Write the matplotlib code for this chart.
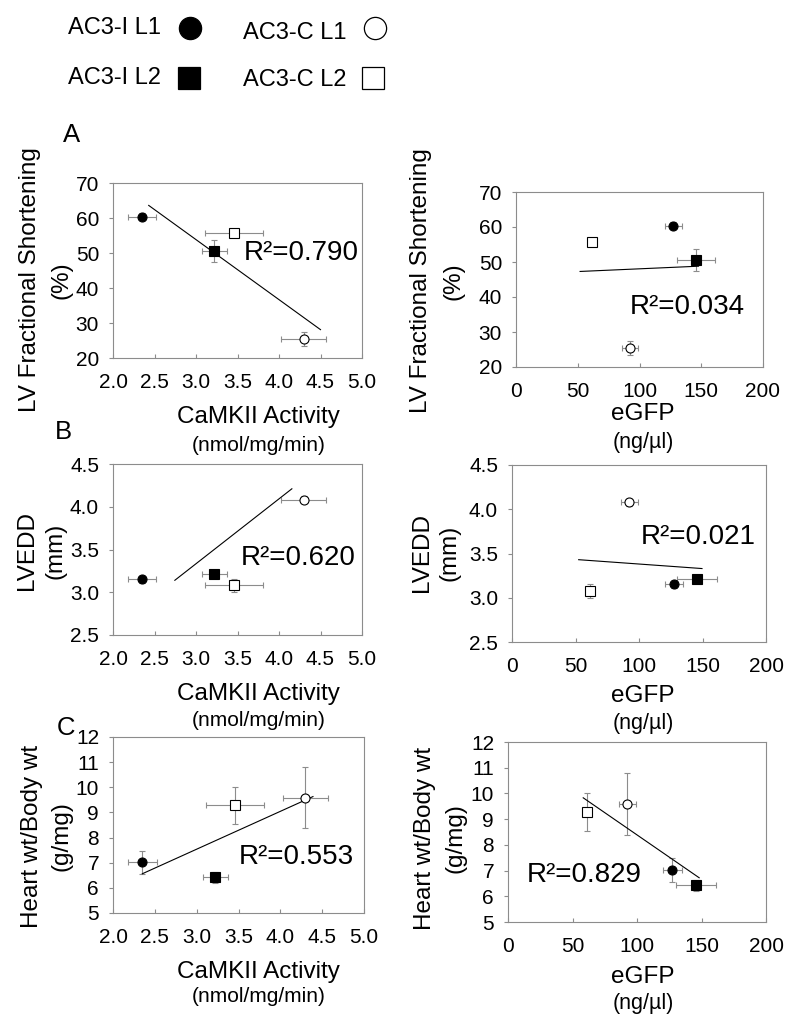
#imports:
import matplotlib
matplotlib.use('Agg')
import matplotlib.pyplot as plt
from matplotlib.lines import Line2D
from matplotlib import ticker

#define:
plt.rcParams['font.family'] = ['Liberation Sans', 'DejaVu Sans']

groups = ['AC3-I L1', 'AC3-I L2', 'AC3-C L1', 'AC3-C L2']
groupMarkers = ['o', 's', 'o', 's']
groupFaces = ['black', 'black', 'white', 'white']

#x values, one per group
camkii = [2.35, 3.22, 4.30, 3.46]
camkiiErr = [0.17, 0.15, 0.27, 0.35]
egfp = [127.5, 145.7, 92.5, 61.6]
egfpErr = [7.0, 15.5, 6.5, 2.0]

#y values, one per group
fracShort = [60.3, 50.5, 25.3, 55.7]
fracShortErr = [1.0, 3.1, 2.0, 1.2]
lvedd = [3.15, 3.21, 4.08, 3.08]
lveddErr = [0.04, 0.04, 0.04, 0.08]
heartBody = [7.02, 6.42, 9.59, 9.28]
heartBodyErr = [0.46, 0.23, 1.21, 0.74]

#trend lines as drawn (end points)
fitFsCamX, fitFsCamY = [2.43, 4.50], [63.6, 28.1]
fitFsGfpX, fitFsGfpY = [51.9, 147.8], [47.3, 48.8]
fitEddCamX, fitEddCamY = [2.745, 4.155], [3.14, 4.21]
fitEddGfpX, fitEddGfpY = [52.5, 149.6], [3.43, 3.33]
fitHwCamX, fitHwCamY = [2.35, 4.39], [6.56, 9.63]
fitHwGfpX, fitHwGfpY = [58.3, 148.2], [9.83, 6.72]

r2Labels = ['0.790', '0.034', '0.620', '0.021', '0.553', '0.829']

W, H = 795, 1023
gray = '#8c8c8c'
fig = plt.figure(figsize=(W/100, H/100), dpi=100)

def px(x, y):
    return x/W, 1 - y/H

def drawPanel(box, xs, xerr, ys, yerr, fitX, fitY, r2, r2Pos,
              xlim, xstep, xfmt, ylim, ystep, yfmt, ylabs, ylabY, xlabs):
    x0, y0, x1, y1 = box
    ax = fig.add_axes([x0/W, 1 - y1/H, (x1 - x0)/W, (y1 - y0)/H])
    ax.errorbar(xs, ys, xerr=xerr, yerr=yerr, fmt='none', ecolor=gray,
                elinewidth=0.8, capsize=2.5, capthick=0.8, zorder=2)
    ax.plot(fitX, fitY, color='black', lw=0.8, zorder=3)
    for x, y, m, f in zip(xs, ys, groupMarkers, groupFaces):
        ax.plot(x, y, marker=m, mfc=f, mec='black', ms=6.5, mew=0.8,
                ls='none', zorder=4)
    ax.text(r2Pos[0], r2Pos[1], 'R\u00b2=' + r2, fontsize=20,
            ha='left', va='center')
    ax.set_xlim(*xlim)
    ax.set_ylim(*ylim)
    ax.xaxis.set_major_locator(ticker.MultipleLocator(xstep))
    ax.yaxis.set_major_locator(ticker.MultipleLocator(ystep))
    ax.xaxis.set_major_formatter(ticker.FormatStrFormatter(xfmt))
    ax.yaxis.set_major_formatter(ticker.FormatStrFormatter(yfmt))
    ax.tick_params(axis='x', direction='in', length=3, width=0.8,
                   color=gray, pad=11, labelsize=15)
    ax.tick_params(axis='y', direction='out', length=3, width=0.8,
                   color=gray, pad=7, labelsize=15)
    for s in ax.spines.values():
        s.set_color(gray)
        s.set_linewidth(0.8)
    for txt, lx in ylabs:
        fig.text(*px(lx, ylabY), txt, rotation=90, fontsize=17.5,
                 ha='center', va='center')
    for txt, lx, ly, fs in xlabs:
        fig.text(*px(lx, ly), txt, fontsize=fs, ha='center', va='center')
    return ax

camLab = [('CaMKII Activity', 258, 0, 17.5), ('(nmol/mg/min)', 259, 0, 15)]
gfpLab = [('eGFP', 643, 0, 17.5), ('(ng/\u00b5l)', 643, 0, 15.5)]

def xl(lab, ya, yb):
    return [(lab[0][0], lab[0][1], ya, lab[0][3]),
            (lab[1][0], lab[1][1], yb, lab[1][3])]

#row A
drawPanel((113, 183, 362, 358), camkii, camkiiErr, fracShort, fracShortErr,
          fitFsCamX, fitFsCamY, r2Labels[0], (3.57, 49.9),
          (2.0, 5.0), 0.5, '%.1f', (20, 70), 10, '%d',
          [('LV Fractional Shortening', 30), ('(%)', 61)], 280,
          xl(camLab, 417, 445))
drawPanel((516, 192, 763, 367), egfp, egfpErr, fracShort, fracShortErr,
          fitFsGfpX, fitFsGfpY, r2Labels[1], (92.4, 37.2),
          (0, 200), 50, '%d', (20, 70), 10, '%d',
          [('LV Fractional Shortening', 421), ('(%)', 454)], 281,
          xl(gfpLab, 414, 442))
#row B
drawPanel((113, 464, 362, 635), camkii, camkiiErr, lvedd, lveddErr,
          fitEddCamX, fitEddCamY, r2Labels[2], (3.54, 3.40),
          (2.0, 5.0), 0.5, '%.1f', (2.5, 4.5), 0.5, '%.1f',
          [('LVEDD', 27), ('(mm)', 55)], 551,
          xl(camLab, 694, 720))
drawPanel((512, 465, 766, 642), egfp, egfpErr, lvedd, lveddErr,
          fitEddGfpX, fitEddGfpY, r2Labels[3], (101.6, 3.69),
          (0, 200), 50, '%d', (2.5, 4.5), 0.5, '%.1f',
          [('LVEDD', 422), ('(mm)', 449)], 553,
          xl(gfpLab, 696, 724))
#row C
drawPanel((113, 737, 364, 913), camkii, camkiiErr, heartBody, heartBodyErr,
          fitHwCamX, fitHwCamY, r2Labels[4], (3.50, 7.23),
          (2.0, 5.0), 0.5, '%.1f', (5, 12), 1, '%d',
          [('Heart wt/Body wt', 32), ('(g/mg)', 61)], 836,
          xl(camLab, 972, 997))
drawPanel((508, 742, 766, 922), egfp, egfpErr, heartBody, heartBodyErr,
          fitHwGfpX, fitHwGfpY, r2Labels[5], (14.2, 6.81),
          (0, 200), 50, '%d', (5, 12), 1, '%d',
          [('Heart wt/Body wt', 425), ('(g/mg)', 455)], 838,
          xl(gfpLab, 977, 1003))

#panel letters
for letter, lx, ly in [('A', 72, 135), ('B', 63, 432), ('C', 66, 728)]:
    fig.text(*px(lx, ly), letter, fontsize=18.5, ha='center', va='center')

#legend, text then marker
legendSpots = [(68, 28, 190, 28), (68, 78, 189, 78),
               (243, 33, 375, 28), (243, 80, 373, 78)]
for name, m, f, (tx, ty, mx, my) in zip(groups, groupMarkers, groupFaces,
                                        legendSpots):
    fig.text(*px(tx, ty), name, fontsize=17, ha='left', va='center')
    fig.add_artist(Line2D([mx/W], [1 - my/H], transform=fig.transFigure,
                          marker=m, ms=16, mfc=f, mec='black', mew=0.9,
                          ls='none'))

fig.savefig('out.png', dpi=100)
